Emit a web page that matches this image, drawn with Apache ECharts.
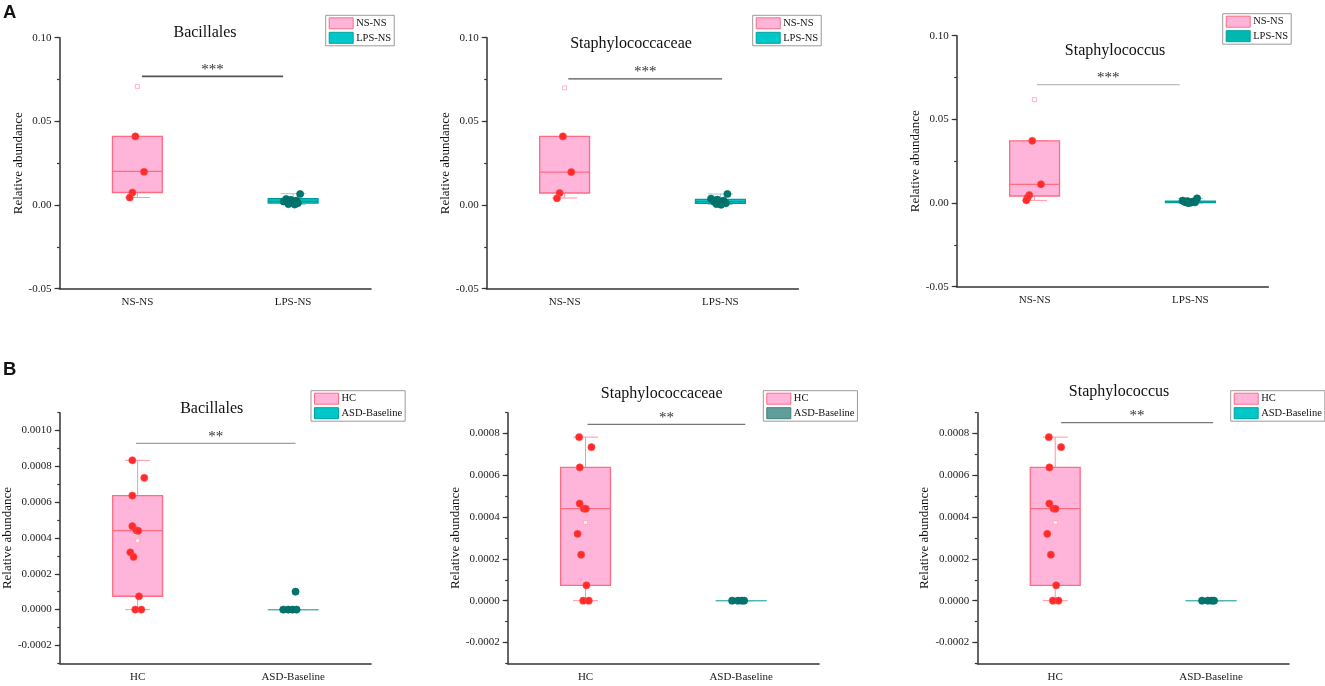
<!DOCTYPE html>
<html>
<head>
<meta charset="utf-8">
<script src="https://cdn.jsdelivr.net/npm/echarts@6/dist/echarts.min.js"></script>
<style>
  html, body { margin: 0; padding: 0; background: #fff; }
  #chart { width: 1325px; height: 686px; }
</style>
</head>
<body>
<div id="chart"></div>
<script>
// categories and labels
const catsA = ['NS-NS', 'LPS-NS'];
const catsB = ['HC', 'ASD-Baseline'];
const titlesText = ['Bacillales', 'Staphylococcaceae', 'Staphylococcus', 'Bacillales', 'Staphylococcaceae', 'Staphylococcus'];
const sigText = ['***', '***', '***', '**', '**', '**'];

// tick labels
const ticksA = [-0.05, 0, 0.05, 0.10];
const ticksB1 = [-0.0002, 0, 0.0002, 0.0004, 0.0006, 0.0008, 0.0010];
const ticksB23 = [-0.0002, 0, 0.0002, 0.0004, 0.0006, 0.0008];

// box stats per group: [lower whisker, Q1, median, Q3, upper whisker]
const boxA1 = [[0.0045, 0.0075, 0.0201, 0.0410, 0.0410], [0.0003, 0.0012, 0.0022, 0.0038, 0.0068]];
const boxA2 = [[0.0042, 0.0072, 0.0197, 0.0410, 0.0410], [0.0003, 0.0010, 0.0020, 0.0034, 0.0066]];
const boxA3 = [[0.0016, 0.0042, 0.0112, 0.0372, 0.0372], [0.0000, 0.0003, 0.0006, 0.0011, 0.0028]];
const boxB1 = [[0, 0.0000745, 0.000441, 0.000637, 0.000834], [0, 0, 0, 0, 0]];
const boxB2 = [[0, 0.0000735, 0.000441, 0.000638, 0.000783], [0, 0, 0, 0, 0]];
const boxB3 = [[0, 0.0000735, 0.000441, 0.000638, 0.000783], [0, 0, 0, 0, 0]];

// individual samples per group
const ptsA1 = [[0.0410, 0.0199, 0.0075, 0.0045],
               [0.0066, 0.0036, 0.0031, 0.0026, 0.0021, 0.0016, 0.0011, 0.0006, 0.0003]];
const ptsA2 = [[0.0410, 0.0197, 0.0072, 0.0040],
               [0.0066, 0.0038, 0.0032, 0.0026, 0.0020, 0.0015, 0.0010, 0.0006, 0.0002]];
const ptsA3 = [[0.0372, 0.0112, 0.0048, 0.0032, 0.0016],
               [0.0028, 0.0014, 0.0011, 0.0008, 0.0006, 0.0004, 0.0002, 0.0000]];
const ptsB1 = [[0.000834, 0.000736, 0.000637, 0.000466, 0.000443, 0.000440, 0.000320, 0.000294, 0.0000745, 0, 0],
               [0.0001, 0, 0, 0, 0]];
const ptsB2 = [[0.000783, 0.000735, 0.000638, 0.000465, 0.000441, 0.000440, 0.000320, 0.000220, 0.0000735, 0, 0],
               [0, 0, 0, 0]];
const ptsB3 = [[0.000783, 0.000735, 0.000638, 0.000465, 0.000441, 0.000440, 0.000320, 0.000220, 0.0000735, 0, 0],
               [0, 0, 0, 0]];

// horizontal jitter of each sample, as a fraction of the category band
const jitA1 = [[-0.013, 0.043, -0.032, -0.049], [0.045, -0.045, -0.015, 0.02, -0.06, 0.0, 0.03, -0.03, 0.01]];
const jitA2 = [[-0.011, 0.043, -0.032, -0.049], [0.045, -0.06, -0.02, 0.02, -0.04, 0.01, 0.035, -0.025, 0.005]];
const jitA3 = [[-0.015, 0.041, -0.034, -0.045, -0.053], [0.043, -0.05, -0.02, 0.015, -0.035, 0.03, 0.0, -0.015]];
const jitB1 = [[-0.034, 0.043, -0.034, -0.034, -0.008, 0.004, -0.047, -0.026, 0.009, -0.015, 0.024],
               [0.015, -0.064, -0.032, -0.004, 0.022]];
const jitB2 = [[-0.041, 0.038, -0.037, -0.038, -0.011, 0.002, -0.051, -0.028, 0.006, -0.015, 0.021],
               [-0.058, -0.021, 0.004, 0.019]];
const jitB3 = jitB2;

// small open square marks (outlier / mean)
const markA1 = [0.0709, null];
const markA2 = [0.0700, null];
const markA3 = [0.0618, null];
const markB1 = [0.000385, null];
const markB2 = [0.000374, null];
const markB3 = [0.000374, null];

const serif = '"Liberation Serif", "Times New Roman", serif';
const pink = { fill: '#ffb5da', stroke: '#ff6b81', whisker: '#ff95a4', dot: '#ff2b2b', dotStroke: '#ff4d4d' };
const tealA = { fill: '#00c6c6', stroke: '#009c9c', whisker: '#93cfcf', dot: '#00766f', dotStroke: '#00665f' };
const tealB = { fill: '#00c6c6', stroke: '#4fb4b4', whisker: '#4fb4b4', dot: '#00766f', dotStroke: '#00665f' };

const panels = [
  { grid: [59.5, 37.7, 311.5, 251], cats: catsA, min: -0.05, max: 0.10, minor: 0.025, ticks: ticksA, dec: 2,
    box: boxA1, pts: ptsA1, jit: jitA1, mark: markA1, teal: tealA, nameGap: 32,
    sigY: 0.0769, sigX: [0.030, -0.064], sigColor: '#555', sigWidth: 1.6,
    title: [205, 33], legend: [325.7, 15.3], legendTeal: ['#00c8c8', '#00a0a0'] },
  { grid: [486.7, 37.7, 311.6, 251], cats: catsA, min: -0.05, max: 0.10, minor: 0.025, ticks: ticksA, dec: 2,
    box: boxA2, pts: ptsA2, jit: jitA2, mark: markA2, teal: tealA, nameGap: 32,
    sigY: 0.0754, sigX: [0.024, 0.011], sigColor: '#555', sigWidth: 1.1,
    title: [631, 44], legend: [752.7, 15.3], legendTeal: ['#00c8c8', '#00a0a0'] },
  { grid: [956.7, 35.7, 311.6, 251], cats: catsA, min: -0.05, max: 0.10, minor: 0.025, ticks: ticksA, dec: 2,
    box: boxA3, pts: ptsA3, jit: jitA3, mark: markA3, teal: tealA, nameGap: 32,
    sigY: 0.0707, sigX: [0.015, -0.069], sigColor: '#aaa', sigWidth: 1,
    title: [1115, 50.7], legend: [1222.7, 13.7], legendTeal: ['#00b8b0', '#00a0a0'] },
  { grid: [59.3, 412.7, 311.7, 250.6], cats: catsB, min: -0.0003, max: 0.0011, minor: 0.0001, ticks: ticksB1, dec: 4,
    box: boxB1, pts: ptsB1, jit: jitB1, mark: markB1, teal: tealB, nameGap: 42,
    sigY: 0.000929, sigX: [-0.010, 0.015], sigColor: '#888', sigWidth: 1,
    title: [211.7, 409], legend: [311, 390.7], legendTeal: ['#00c8c8', '#00a0a0'] },
  { grid: [507.7, 412.7, 311.3, 250.6], cats: catsB, min: -0.0003, max: 0.0009, minor: 0.0001, ticks: ticksB23, dec: 4,
    box: boxB2, pts: ptsB2, jit: jitB2, mark: markB2, teal: tealB, nameGap: 42,
    sigY: 0.000844, sigX: [0.013, 0.026], sigColor: '#777', sigWidth: 1.3,
    title: [661.7, 394], legend: [763.3, 390.7], legendTeal: ['#5f9e9a', '#3f7f7b'] },
  { grid: [977.3, 412.7, 311.7, 250.6], cats: catsB, min: -0.0003, max: 0.0009, minor: 0.0001, ticks: ticksB23, dec: 4,
    box: boxB3, pts: ptsB3, jit: jitB3, mark: markB3, teal: tealB, nameGap: 42,
    sigY: 0.000852, sigX: [0.038, 0.013], sigColor: '#777', sigWidth: 1.3,
    title: [1119, 392], legend: [1230.7, 390.7], legendTeal: ['#00c8c8', '#00a0a0'] }
];

function boxRenderer(st) {
  return function (params, api) {
    const cat = api.value(0);
    const bw = api.size([1, 0])[0];
    const x = api.coord([cat, 0])[0];
    const y = k => api.coord([cat, api.value(k)])[1];
    const lo = y(1), q1 = y(2), md = y(3), q3 = y(4), hi = y(5);
    const hb = bw * 0.16, hc = bw * 0.08;
    const ws = { stroke: st.whisker, lineWidth: 1 };
    return {
      type: 'group',
      children: [
        { type: 'line', shape: { x1: x, y1: q1, x2: x, y2: lo }, style: ws },
        { type: 'line', shape: { x1: x, y1: q3, x2: x, y2: hi }, style: ws },
        { type: 'line', shape: { x1: x - hc, y1: lo, x2: x + hc, y2: lo }, style: ws },
        { type: 'line', shape: { x1: x - hc, y1: hi, x2: x + hc, y2: hi }, style: ws },
        { type: 'rect', shape: { x: x - hb, y: q3, width: 2 * hb, height: Math.max(q1 - q3, 0.01) },
          style: { fill: st.fill, stroke: st.stroke, lineWidth: 1.3 } },
        { type: 'line', shape: { x1: x - hb, y1: md, x2: x + hb, y2: md }, style: { stroke: st.stroke, lineWidth: 1.3 } }
      ]
    };
  };
}

function dotRenderer(st) {
  return function (params, api) {
    const c = api.coord([api.value(0), api.value(1)]);
    const bw = api.size([1, 0])[0];
    return {
      type: 'circle',
      shape: { cx: c[0] + api.value(2) * bw, cy: c[1], r: 3.6 },
      style: { fill: st.dot, stroke: st.dotStroke, lineWidth: 0.6 }
    };
  };
}

function sigRenderer(p, text) {
  return function (params, api) {
    const bw = api.size([1, 0])[0];
    const a = api.coord([0, api.value(1)]);
    const b = api.coord([1, api.value(1)]);
    const x1 = a[0] + p.sigX[0] * bw, x2 = b[0] + p.sigX[1] * bw;
    return {
      type: 'group',
      children: [
        { type: 'line', shape: { x1: x1, y1: a[1], x2: x2, y2: a[1] }, style: { stroke: p.sigColor, lineWidth: p.sigWidth } },
        { type: 'text', x: (x1 + x2) / 2, y: a[1] - 6.5,
          style: { text: text, fill: '#333', fontSize: 15, fontFamily: serif,
                   align: 'center', verticalAlign: 'middle', textAlign: 'center', textVerticalAlign: 'middle' } }
      ]
    };
  };
}

const grids = [], xAxes = [], yAxes = [], series = [], legends = [];
const titles = [
  { text: 'A', left: 3, top: 3, padding: 0, textStyle: { fontFamily: '"Liberation Sans", Arial, sans-serif', fontSize: 18.5, fontWeight: 'bold', color: '#111' } },
  { text: 'B', left: 3, top: 360, padding: 0, textStyle: { fontFamily: '"Liberation Sans", Arial, sans-serif', fontSize: 18.5, fontWeight: 'bold', color: '#111' } }
];

panels.forEach((p, i) => {
  grids.push({ left: p.grid[0], top: p.grid[1], width: p.grid[2], height: p.grid[3], containLabel: false });
  xAxes.push({
    type: 'category', gridIndex: i, data: p.cats, boundaryGap: true, position: 'bottom',
    axisLine: { onZero: false, lineStyle: { color: '#333', width: 1.5 } },
    axisTick: { alignWithLabel: true, length: 4, lineStyle: { color: '#333', width: 1.2 } },
    axisLabel: { fontFamily: serif, fontSize: 11, color: '#1a1a1a', margin: 8 },
    splitLine: { show: false }
  });
  yAxes.push({
    type: 'value', gridIndex: i, position: 'left', min: p.min, max: p.max, interval: p.minor,
    name: 'Relative abundance', nameLocation: 'middle', nameGap: p.nameGap,
    nameTextStyle: { fontFamily: serif, fontSize: 13, color: '#111' },
    axisLine: { show: true, onZero: false, lineStyle: { color: '#333', width: 1.5 } },
    axisTick: { show: true, length: 5, customValues: p.ticks, lineStyle: { color: '#333', width: 1.2 } },
    axisLabel: { customValues: p.ticks, formatter: v => v.toFixed(p.dec), fontFamily: serif, fontSize: 11, color: '#1a1a1a', margin: 8 },
    splitLine: { show: false }
  });
  yAxes.push({
    type: 'value', gridIndex: i, position: 'left', min: p.min, max: p.max, interval: p.minor,
    axisLine: { show: false, onZero: false }, axisLabel: { show: false }, splitLine: { show: false },
    axisTick: { show: true, length: 2.5, lineStyle: { color: '#333', width: 1.2 } }
  });

  const styles = [pink, p.teal];
  [0, 1].forEach(g => {
    series.push({
      type: 'custom', name: p.cats[g], xAxisIndex: i, yAxisIndex: 2 * i, z: 2, silent: true,
      data: [[g].concat(p.box[g])], encode: { x: 0, y: [1, 2, 3, 4, 5] },
      renderItem: boxRenderer(styles[g])
    });
    series.push({
      type: 'custom', name: p.cats[g], xAxisIndex: i, yAxisIndex: 2 * i, z: 3, silent: true,
      data: p.pts[g].map((v, k) => [g, v, p.jit[g][k]]), encode: { x: 0, y: 1 },
      renderItem: dotRenderer(styles[g])
    });
    if (p.mark[g] != null) {
      series.push({
        type: 'scatter', name: p.cats[g], xAxisIndex: i, yAxisIndex: 2 * i, z: 4, silent: true,
        data: [[g, p.mark[g]]], symbol: 'rect', symbolSize: 4,
        itemStyle: { color: '#fff', borderColor: '#ffa3b8', borderWidth: 1 }
      });
    }
  });
  series.push({
    type: 'custom', name: 'sig' + i, xAxisIndex: i, yAxisIndex: 2 * i, z: 3, silent: true,
    data: [[0, p.sigY]], encode: { x: 0, y: 1 },
    renderItem: sigRenderer(p, sigText[i])
  });

  titles.push({
    text: titlesText[i], left: p.title[0], top: p.title[1] - 8, textAlign: 'center', padding: 0,
    textStyle: { fontFamily: serif, fontSize: 16, fontWeight: 'normal', color: '#111' }
  });

  legends.push({
    orient: 'vertical', left: p.legend[0], top: p.legend[1], icon: 'rect',
    itemWidth: 24, itemHeight: 11, itemGap: 2.5, padding: [2, 3, 2, 3],
    borderColor: '#9a9a9a', borderWidth: 1, backgroundColor: '#fff', selectedMode: false,
    textStyle: { fontFamily: serif, fontSize: 10.5, color: '#111', padding: [0, 0, 0, -2] },
    data: [
      { name: p.cats[0], itemStyle: { color: pink.fill, borderColor: pink.stroke, borderWidth: 1 } },
      { name: p.cats[1], itemStyle: { color: p.legendTeal[0], borderColor: p.legendTeal[1], borderWidth: 1 } }
    ]
  });
});

const chart = echarts.init(document.getElementById('chart'));
chart.setOption({
  animation: false,
  backgroundColor: '#fff',
  title: titles,
  legend: legends,
  grid: grids,
  xAxis: xAxes,
  yAxis: yAxes,
  series: series
});
window.addEventListener('resize', () => chart.resize());
</script>
</body>
</html>
